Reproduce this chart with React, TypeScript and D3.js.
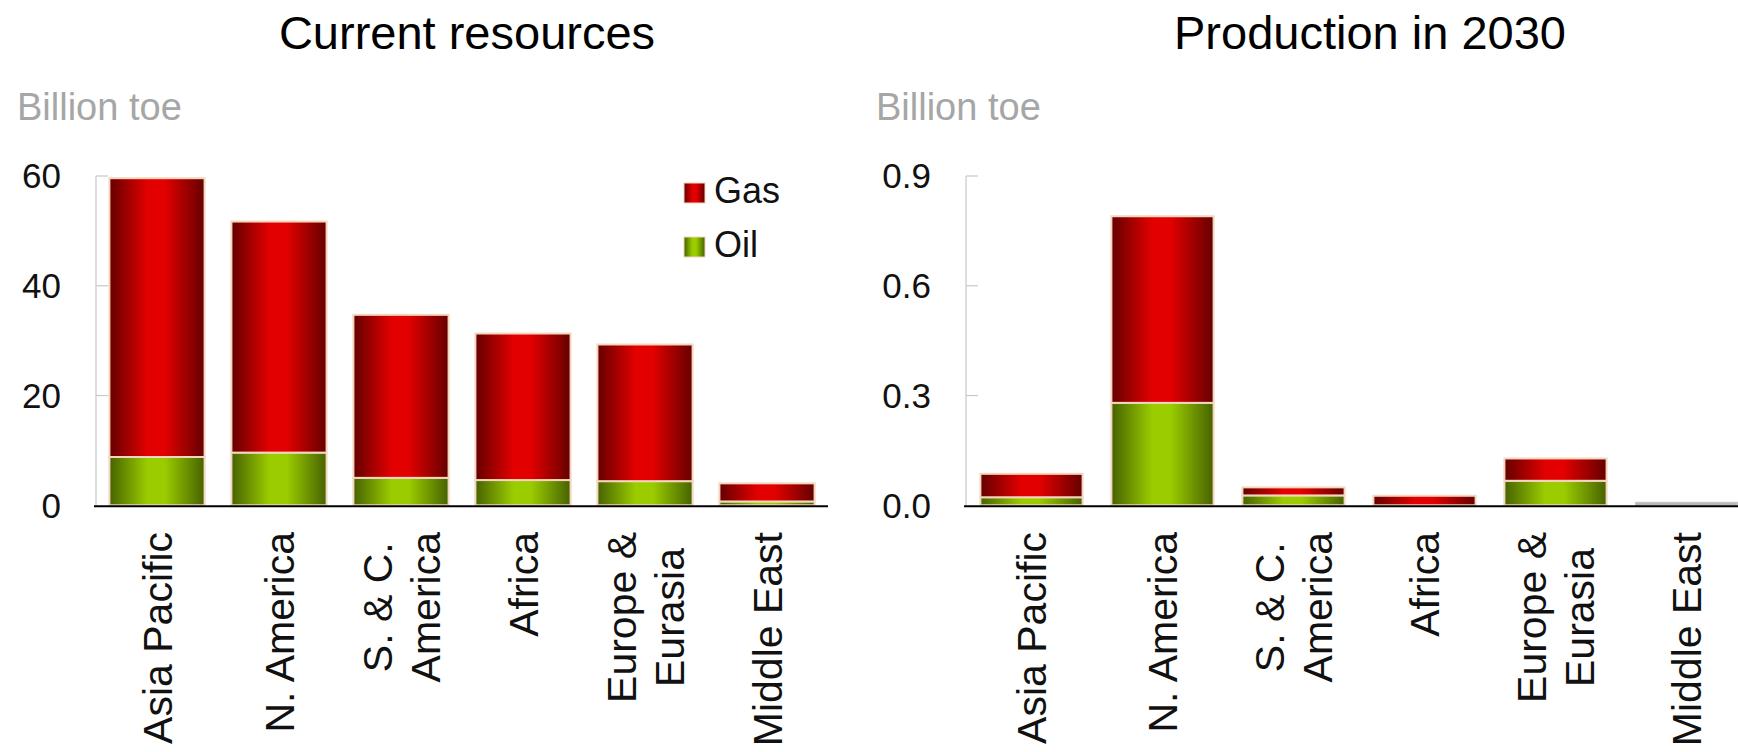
import React, { useEffect, useRef } from "react";
import * as d3 from "d3";

const categories = ["Asia Pacific", "N. America", "S. & C. America", "Africa", "Europe & Eurasia", "Middle East"];
const labelLines = [["Asia Pacific"], ["N. America"], ["S. & C.", "America"], ["Africa"], ["Europe &", "Eurasia"], ["Middle East"]];

// Current resources, billion toe
const resourcesOil = [8.8, 9.6, 5.0, 4.6, 4.4, 0.7];
const resourcesGas = [50.8, 42.1, 29.7, 26.7, 24.9, 3.3];
const resourcesTicks = [0, 20, 40, 60];

// Production in 2030, billion toe
const productionOil = [0.022, 0.28, 0.027, 0.0, 0.067, 0.0];
const productionGas = [0.064, 0.51, 0.022, 0.026, 0.061, 0.003];
const productionTicks = [0, 0.3, 0.6, 0.9];

const seriesNames = ["Gas", "Oil"];

const W = 1738;
const H = 752;
const FONT = "'Liberation Sans', Arial, Helvetica, sans-serif";

export default function App() {
  const ref = useRef<SVGSVGElement | null>(null);

  useEffect(() => {
    document.body.style.margin = "0";
    document.body.style.overflow = "hidden";
    const svg = d3.select(ref.current);
    svg.selectAll("*").remove();

    const defs = svg.append("defs");
    const mkGrad = (id: string, edge: string, mid: string) => {
      const g = defs.append("linearGradient").attr("id", id).attr("x1", "0%").attr("x2", "100%").attr("y1", "0%").attr("y2", "0%");
      g.append("stop").attr("offset", "0%").attr("stop-color", edge);
      g.append("stop").attr("offset", "40%").attr("stop-color", mid);
      g.append("stop").attr("offset", "58%").attr("stop-color", mid);
      g.append("stop").attr("offset", "100%").attr("stop-color", edge);
    };
    mkGrad("gasGrad", "#650000", "#e20000");
    mkGrad("oilGrad", "#466200", "#9bcc00");

    const panels = [
      { title: "Current resources", titleX: 467, x0: 96, x1: 828, lineEnd: 828, domainMax: 60, ticks: resourcesTicks, fmt: d3.format("d"), oil: resourcesOil, gas: resourcesGas, unitX: 17, legend: true },
      { title: "Production in 2030", titleX: 1370, x0: 966, x1: 1752, lineEnd: W, domainMax: 0.9, ticks: productionTicks, fmt: d3.format(".1f"), oil: productionOil, gas: productionGas, unitX: 876, legend: false },
    ];

    const yTop = 176;
    const yBase = 505.3;

    panels.forEach((p) => {
      const g = svg.append("g");
      const x = d3.scaleBand<string>().domain(categories).range([p.x0, p.x1]).paddingInner(0.22).paddingOuter(0.11);
      const y = d3.scaleLinear().domain([0, p.domainMax]).range([yBase, yTop]);

      g.append("text").attr("x", p.titleX).attr("y", 49).attr("text-anchor", "middle")
        .attr("font-family", FONT).attr("font-size", 47).attr("fill", "#000").text(p.title);
      g.append("text").attr("x", p.unitX).attr("y", 120).attr("font-family", FONT)
        .attr("font-size", 38).attr("fill", "#a6a6a6").text("Billion toe");

      g.append("line").attr("x1", p.x0).attr("x2", p.x0).attr("y1", yTop).attr("y2", yBase)
        .attr("stroke", "#c8c8c8").attr("stroke-width", 1.2);
      p.ticks.forEach((t) => {
        if (t !== 0) {
          g.append("line").attr("x1", p.x0).attr("x2", p.x0 + 12).attr("y1", y(t)).attr("y2", y(t))
            .attr("stroke", "#c8c8c8").attr("stroke-width", 1.2);
        }
        g.append("text").attr("x", p.x0 - 35).attr("y", y(t)).attr("dy", "0.35em").attr("text-anchor", "end")
          .attr("font-family", FONT).attr("font-size", 35).attr("fill", "#111").text(p.fmt(t));
      });

      categories.forEach((c, i) => {
        const bx = x(c) as number;
        const bw = x.bandwidth();
        const oil = p.oil[i];
        const gas = p.gas[i];
        const segs = [
          { v0: 0, v1: oil, fill: "url(#oilGrad)" },
          { v0: oil, v1: oil + gas, fill: "url(#gasGrad)" },
        ];
        segs.forEach((s) => {
          if (s.v1 - s.v0 <= 0) return;
          const h = y(s.v0) - y(s.v1);
          const tiny = h < 2;
          g.append("rect").attr("x", bx).attr("width", bw)
            .attr("y", tiny ? yBase - 3 : y(s.v1)).attr("height", tiny ? 3 : h)
            .attr("fill", tiny ? "#b8b8b8" : s.fill)
            .attr("stroke", tiny ? "#c4c4c4" : "#f3d6bd").attr("stroke-width", tiny ? 1 : 2);
        });
      });

      g.append("line").attr("x1", p.x0 - 2).attr("x2", p.lineEnd).attr("y1", yBase + 1).attr("y2", yBase + 1)
        .attr("stroke", "#000").attr("stroke-width", 2);

      categories.forEach((c, i) => {
        const cx = (x(c) as number) + x.bandwidth() / 2;
        const lines = labelLines[i];
        const lg = g.append("g").attr("transform", `translate(${cx},532) rotate(-90)`);
        const fs = 41;
        const capHalf = 0.716 * fs / 2;
        if (lines.length === 1) {
          lg.append("text").attr("x", 0).attr("y", capHalf).attr("text-anchor", "end")
            .attr("font-family", FONT).attr("font-size", fs).attr("fill", "#111").text(lines[0]);
        } else {
          const texts = lines.map((l, k) => {
            const off = (k - (lines.length - 1) / 2) * 48;
            return lg.append("text").attr("y", off + capHalf).attr("text-anchor", "middle")
              .attr("font-family", FONT).attr("font-size", fs).attr("fill", "#111").text(l);
          });
          const maxW = d3.max(texts, (t) => (t.node() as SVGTextElement).getComputedTextLength()) || 0;
          texts.forEach((t) => t.attr("x", -maxW / 2));
        }
      });

      if (p.legend) {
        const items = [
          { name: seriesNames[0], fill: "url(#gasGrad)", y: 183 },
          { name: seriesNames[1], fill: "url(#oilGrad)", y: 237 },
        ];
        items.forEach((it) => {
          g.append("rect").attr("x", 684).attr("y", it.y).attr("width", 21).attr("height", 20)
            .attr("fill", it.fill).attr("stroke", "#f3d6bd").attr("stroke-width", 1);
          g.append("text").attr("x", 714).attr("y", it.y + 20).attr("font-family", FONT)
            .attr("font-size", 36).attr("fill", "#111").text(it.name);
        });
      }
    });
  }, []);

  return <svg ref={ref} width={W} height={H} style={{ display: "block", background: "#fff" }} />;
}
